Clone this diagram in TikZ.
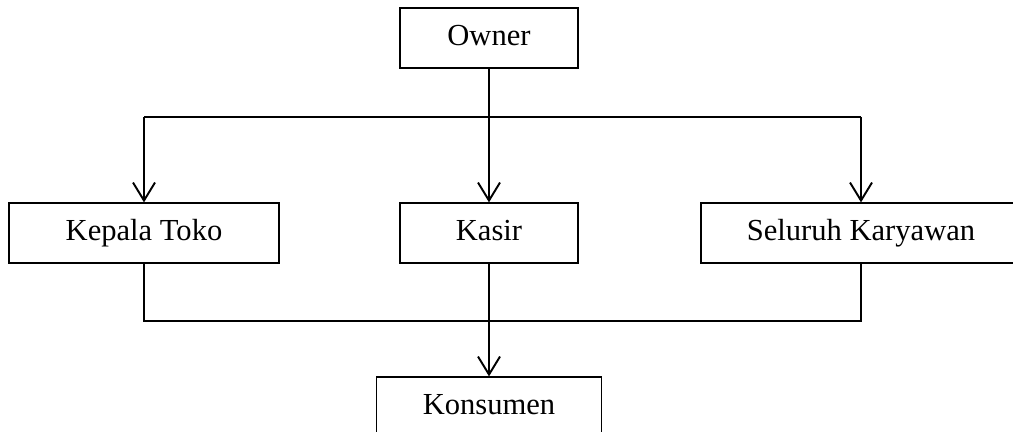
\documentclass[tikz,border=0pt]{standalone}
\usepackage{fontspec}
\setmainfont{Liberation Serif}
\usepackage{tikz}
\usetikzlibrary{arrows.meta, positioning}
\tikzset{
x=0.02cm, y=-0.02cm, % one unit is one pixel of the page
>={Straight Barb[length=0.36cm, width=0.44cm, line width=1.1pt]}, % open v heads
every node/.style={font=\fontsize{17.4}{20}\selectfont},
unit/.style={draw, line width=0.7pt, minimum height=1.2cm, inner sep=2pt,
    text height=0.85em, text depth=0em}, % a box of the chart
link/.style={line width=1.1pt}, % the lines between boxes
}
\begin{document}
\begin{tikzpicture}
    \useasboundingbox (0,0) rectangle (1013,432);

    \node[unit, minimum width=3.56cm] (owner) at (489,38) {Owner};

    \node[unit, minimum width=5.4cm] (kepala) at (144,233) {Kepala Toko};
    \node[unit, minimum width=3.56cm] (kasir) at (489,233) {Kasir};
    \node[unit, minimum width=6.4cm] (seluruh) at (861,233) {Seluruh Karyawan};

    \node[unit, minimum width=4.5cm] (konsumen) at (489,407) {Konsumen};

    % junctions of the lines
    \coordinate (top_l) at (144,117);
    \coordinate (top_r) at (861,117);
    \coordinate (bot_l) at (144,321);
    \coordinate (bot_r) at (861,321);

    \draw[link, ->] (owner) -- (kasir);
    \draw[link] (top_l) -- (top_r);
    \draw[link, ->] (top_l) -- (kepala);
    \draw[link, ->] (top_r) -- (seluruh);

    \draw[link] (kepala) -- (bot_l) -- (bot_r) -- (seluruh);
    \draw[link, ->] (kasir) -- (konsumen);
\end{tikzpicture}
\end{document}
